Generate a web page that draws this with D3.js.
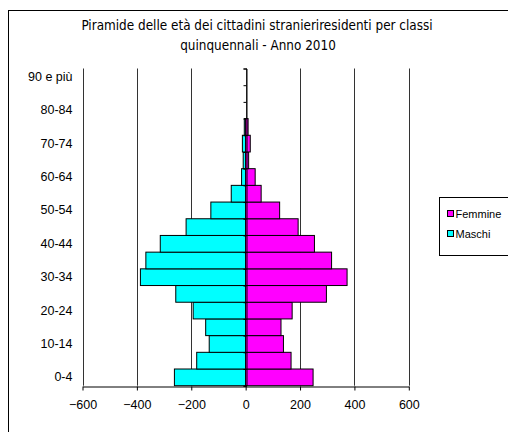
<!DOCTYPE html>
<html>
<head>
<meta charset="utf-8">
<script src="https://cdn.jsdelivr.net/npm/d3@7"></script>
<style>
  body { margin: 0; background: #fff; }
  svg { display: block; font-family: 'Liberation Sans', Arial, sans-serif; }
</style>
</head>
<body>
<div id="chart"></div>
<script>
// classi di età, dal basso verso l'alto
const ageGroups = ['0-4', '5-9', '10-14', '15-19', '20-24', '25-29', '30-34', '35-39', '40-44',
  '45-49', '50-54', '55-59', '60-64', '65-69', '70-74', '75-79', '80-84', '85-89', '90 e più'];
const maschi = [-262, -180, -134, -147, -193, -257, -387, -367, -314,
  -219, -128, -53, -15, -9, -12, -5, 0, 0, 0];
const femmine = [248, 167, 139, 130, 171, 297, 373, 316, 253,
  193, 125, 57, 35, 11, 17, 9, 0, 0, 0];
const yLabels = ['0-4', '10-14', '20-24', '30-34', '40-44', '50-54', '60-64', '70-74', '80-84', '90 e più'];
const xTicks = [-600, -400, -200, 0, 200, 400, 600];
const legendItems = [
  { name: 'Femmine', color: '#ff00ff' },
  { name: 'Maschi', color: '#00ffff' }
];

const W = 508, H = 432;
const plot = { left: 82.5, right: 408.8, top: 68.5, bottom: 385.7 };

const svg = d3.select('#chart')
  .append('svg')
  .attr('width', W)
  .attr('height', H);

// cornice esterna
svg.append('rect')
  .attr('x', 8.5).attr('y', 10.5)
  .attr('width', W).attr('height', H)
  .attr('fill', '#fff')
  .attr('stroke', '#000')
  .attr('stroke-width', 1);

// titolo
const title = svg.append('text')
  .attr('text-anchor', 'middle')
  .attr('fill', '#000')
  .style('font-family', "'DejaVu Sans Condensed', 'DejaVu Sans', sans-serif")
  .style('font-size', '13.4px');
title.append('tspan').attr('x', 257).attr('y', 30)
  .text('Piramide delle età dei cittadini stranieriresidenti per classi');
title.append('tspan').attr('x', 258).attr('y', 50)
  .text('quinquennali - Anno 2010');

const x = d3.scaleLinear().domain([-600, 600]).range([plot.left, plot.right]);
const y = d3.scaleBand()
  .domain(ageGroups.slice().reverse())
  .range([plot.top, plot.bottom])
  .padding(0);
const yIdx = d3.scaleLinear().domain([0, ageGroups.length]).range([plot.bottom, plot.top]);

// griglia verticale
svg.append('g')
  .selectAll('line')
  .data(xTicks)
  .enter()
  .append('line')
  .attr('x1', (d) => Math.round(x(d)) + 0.5)
  .attr('x2', (d) => Math.round(x(d)) + 0.5)
  .attr('y1', plot.top)
  .attr('y2', plot.bottom)
  .attr('stroke', '#333')
  .attr('stroke-width', 1);

const rows = ageGroups.map((g, i) => ({ g, m: maschi[i], f: femmine[i] }));

// barre maschi
svg.append('g')
  .selectAll('rect')
  .data(rows.filter((d) => d.m !== 0))
  .enter()
  .append('rect')
  .attr('x', (d) => x(d.m))
  .attr('y', (d) => y(d.g))
  .attr('width', (d) => x(0) - x(d.m))
  .attr('height', y.bandwidth())
  .attr('fill', '#00ffff')
  .attr('stroke', '#000')
  .attr('stroke-width', 1);

// barre femmine
svg.append('g')
  .selectAll('rect')
  .data(rows.filter((d) => d.f !== 0))
  .enter()
  .append('rect')
  .attr('x', x(0))
  .attr('y', (d) => y(d.g))
  .attr('width', (d) => x(d.f) - x(0))
  .attr('height', y.bandwidth())
  .attr('fill', '#ff00ff')
  .attr('stroke', '#000')
  .attr('stroke-width', 1);

// asse centrale con tacche
const centerAxis = svg.append('g')
  .attr('transform', `translate(${Math.round(x(0)) + 0.5},0)`)
  .call(d3.axisLeft(yIdx).tickValues(d3.range(ageGroups.length + 1)).tickSize(3).tickFormat(''));
centerAxis.selectAll('path,line').attr('stroke', '#000');

// etichette classi di età
const yAxis = svg.append('g')
  .attr('transform', `translate(${plot.left},0)`)
  .call(d3.axisLeft(y).tickValues(yLabels).tickSize(0).tickPadding(10));
yAxis.select('.domain').remove();
yAxis.selectAll('text')
  .style('font-family', "'Liberation Sans', Arial, sans-serif")
  .style('font-size', '12.5px')
  .attr('fill', '#000');

// asse x
const xAxis = svg.append('g')
  .attr('transform', `translate(0,${Math.round(plot.bottom) + 0.5})`)
  .call(d3.axisBottom(x).tickValues(xTicks).tickSize(4).tickPadding(10).tickSizeOuter(0));
xAxis.selectAll('path,line').attr('stroke', '#000');
xAxis.selectAll('text')
  .style('font-family', "'Liberation Sans', Arial, sans-serif")
  .style('font-size', '12.5px')
  .attr('fill', '#000');

// legenda
const legend = svg.append('g');
legend.append('rect')
  .attr('x', 439.5).attr('y', 197.5)
  .attr('width', 100).attr('height', 58)
  .attr('fill', '#fff')
  .attr('stroke', '#000');
const li = legend.selectAll('g.item')
  .data(legendItems)
  .enter()
  .append('g')
  .attr('class', 'item')
  .attr('transform', (d, i) => `translate(447.5,${210.5 + i * 20})`);
li.append('rect')
  .attr('width', 6).attr('height', 6)
  .attr('fill', (d) => d.color)
  .attr('stroke', '#000');
li.append('text')
  .attr('x', 8).attr('y', 7)
  .style('font-family', "'Liberation Sans', Arial, sans-serif")
  .style('font-size', '11px')
  .attr('fill', '#000')
  .text((d) => d.name);
</script>
</body>
</html>
